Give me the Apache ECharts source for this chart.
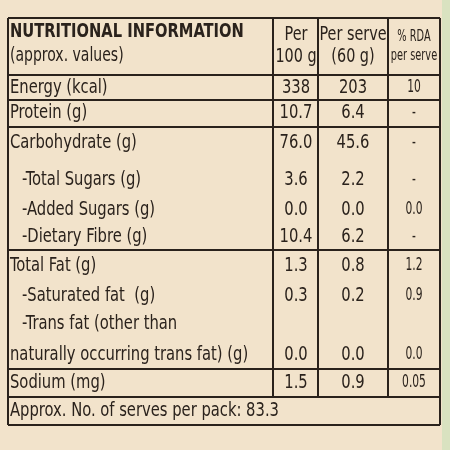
<!DOCTYPE html>
<html>
<head>
<meta charset="utf-8">
<script src="https://cdn.jsdelivr.net/npm/echarts@6/dist/echarts.min.js"></script>
<style>html,body{margin:0;padding:0;background:#f2e3cb}#main{width:450px;height:450px}</style>
</head>
<body>
<div id="main"></div>
<script>
const labels = ['Energy (kcal)', 'Protein (g)', 'Carbohydrate (g)', '-Total Sugars (g)', '-Added Sugars (g)',
  '-Dietary Fibre (g)', 'Total Fat (g)', '-Saturated fat  (g)', '-Trans fat (other than', 'Sodium (mg)'];
const labelExtra = 'naturally occurring trans fat) (g)';
const per100 = ['338', '10.7', '76.0', '3.6', '0.0', '10.4', '1.3', '0.3', '0.0', '1.5'];
const perServe = ['203', '6.4', '45.6', '2.2', '0.0', '6.2', '0.8', '0.2', '0.0', '0.9'];
const rda = ['10', '-', '-', '-', '0.0', '-', '1.2', '0.9', '0.0', '0.05'];
const headers = ['Per\n100 g', 'Per serve\n(60 g)', '% RDA\nper serve'];
const servesText = 'Approx. No. of serves per pack: 83.3';

// layout
const rowY = [88, 113, 143, 180, 210, 237, 266, 296, 324, 383];
const valY = [88, 113, 143, 180, 210, 237, 266, 296, 355, 383];
const colX = [296, 353, 414];
const hLines = [18, 75, 100, 127, 250, 369, 397, 425];
const vLines = [273, 318, 388];
const font = '"DejaVu Sans Condensed", "Liberation Sans Narrow", sans-serif';
const ink = '#2a221c';
const sx = 0.82;

const chart = echarts.init(document.getElementById('main'));
const g = [];
g.push({ type: 'rect', shape: { x: 0, y: 0, width: 450, height: 450 }, style: { fill: '#f2e3cb' } });
g.push({ type: 'rect', shape: { x: 442, y: 0, width: 8, height: 450 }, style: { fill: '#d9e2c0' } });
hLines.forEach(y => g.push({ type: 'line', shape: { x1: 8, y1: y, x2: 440, y2: y }, style: { stroke: ink, lineWidth: 2 } }));
vLines.forEach(x => g.push({ type: 'line', shape: { x1: x, y1: 18, x2: x, y2: 397 }, style: { stroke: ink, lineWidth: 2 } }));
[8, 440].forEach(x => g.push({ type: 'line', shape: { x1: x, y1: 18, x2: x, y2: 425 }, style: { stroke: ink, lineWidth: 2 } }));
const txt = (s, x, y, align, size, weight, lh, scale) => g.push({ type: 'text', x, y, scaleX: scale || sx, style: {
  text: s, fill: ink, font: (weight || 'normal') + ' ' + size + 'px ' + font, align, verticalAlign: 'middle', lineHeight: lh || size + 4 } });
txt('NUTRITIONAL INFORMATION', 10, 32, 'left', 19, 'bold', 0, 0.86);
txt('(approx. values)', 10, 56, 'left', 19);
headers.forEach((h, i) => txt(h, colX[i], 46, 'center', i === 2 ? 16 : 20, 'normal', i === 2 ? 19 : 22, i === 2 ? 0.68 : 0.8));
labels.forEach((l, i) => {
  const sub = l[0] === '-';
  txt(l, sub ? 22 : 10, rowY[i], 'left', 20);
  txt(per100[i], colX[0], valY[i], 'center', 20);
  txt(perServe[i], colX[1], valY[i], 'center', 20);
  txt(rda[i], colX[2], valY[i], 'center', 17, 'normal', 0, 0.7);
});
txt(labelExtra, 10, 355, 'left', 20);
txt(servesText, 10, 411, 'left', 20);
chart.setOption({ graphic: g });
</script>
</body>
</html>
